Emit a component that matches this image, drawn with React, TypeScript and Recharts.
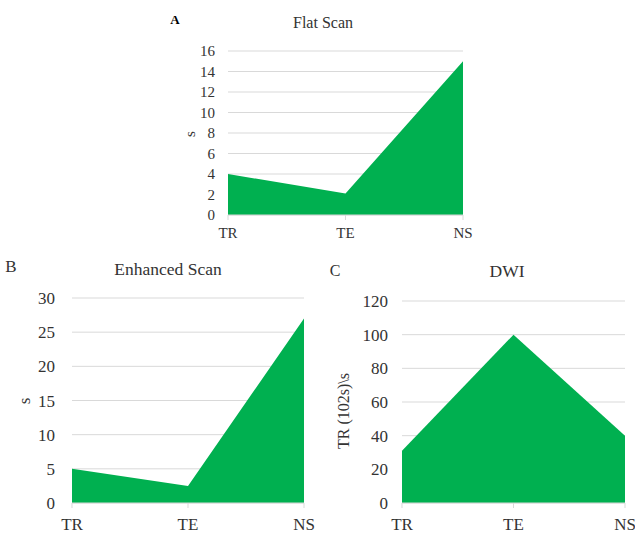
import React from 'react';
import { AreaChart, Area, XAxis, YAxis, CartesianGrid } from 'recharts';

const categories = ['TR', 'TE', 'NS'];
const flatScanValues = [4, 2.1, 15];
const enhancedScanValues = [5, 2.5, 27];
const dwiValues = [31, 100, 40];
const flatTicks = [0, 2, 4, 6, 8, 10, 12, 14, 16];
const enhancedTicks = [0, 5, 10, 15, 20, 25, 30];
const dwiTicks = [0, 20, 40, 60, 80, 100, 120];

const FONT = '"Liberation Serif", "Times New Roman", serif';
const GREEN = '#00b050';
const GRID = '#d9d9d9';
const TEXT = '#333333';

type PanelProps = {
  values: number[];
  ticks: number[];
  left: number;
  top: number;
  width: number;
  height: number;
  margin: { top: number; right: number; bottom: number; left: number };
  yWidth: number;
  yGap: number;
  xGap: number;
  fontSize: number;
};

function Panel(p: PanelProps) {
  const data = categories.map((c, i) => ({ name: c, value: p.values[i] }));
  const max = p.ticks[p.ticks.length - 1];
  return (
    <div style={{ position: 'absolute', left: p.left, top: p.top, width: p.width, height: p.height }}>
      <AreaChart width={p.width} height={p.height} data={data} margin={p.margin}>
        <CartesianGrid vertical={false} stroke={GRID} strokeWidth={1} />
        <XAxis
          dataKey="name"
          height={30}
          axisLine={{ stroke: GRID }}
          tickLine={{ stroke: GRID }}
          tickSize={5}
          tickMargin={p.xGap}
          interval={0}
          tick={{ fill: TEXT, fontSize: p.fontSize, fontFamily: FONT }}
        />
        <YAxis
          width={p.yWidth}
          domain={[0, max]}
          ticks={p.ticks}
          interval={0}
          axisLine={false}
          tickLine={false}
          tickSize={0}
          tickMargin={p.yGap}
          tick={{ fill: TEXT, fontSize: p.fontSize, fontFamily: FONT }}
        />
        <Area
          type="linear"
          dataKey="value"
          stroke="none"
          fill={GREEN}
          fillOpacity={1}
          isAnimationActive={false}
        />
      </AreaChart>
    </div>
  );
}

function Label(props: { x: number; y: number; size: number; text: string; rotate?: boolean; bold?: boolean }) {
  return (
    <div
      style={{
        position: 'absolute',
        left: props.x,
        top: props.y,
        transform: `translate(-50%, -50%)${props.rotate ? ' rotate(-90deg)' : ''}`,
        fontFamily: FONT,
        fontSize: props.size,
        fontWeight: props.bold ? 'bold' : 'normal',
        color: props.bold ? '#000000' : TEXT,
        whiteSpace: 'pre',
        lineHeight: 1,
      }}
    >
      {props.text}
    </div>
  );
}

export default function App() {
  return (
    <div
      style={{
        position: 'fixed',
        left: 0,
        top: 0,
        width: 635,
        height: 536,
        overflow: 'hidden',
        background: '#ffffff',
      }}
    >
      <Panel
        values={flatScanValues}
        ticks={flatTicks}
        left={150}
        top={0}
        width={330}
        height={250}
        margin={{ top: 51, right: 17, bottom: 5, left: 38 }}
        yWidth={40}
        yGap={13}
        xGap={7}
        fontSize={15}
      />
      <Panel
        values={enhancedScanValues}
        ticks={enhancedTicks}
        left={0}
        top={255}
        width={320}
        height={281}
        margin={{ top: 43, right: 16, bottom: 3, left: 22 }}
        yWidth={50}
        yGap={17}
        xGap={10}
        fontSize={17}
      />
      <Panel
        values={dwiValues}
        ticks={dwiTicks}
        left={320}
        top={255}
        width={315}
        height={281}
        margin={{ top: 46, right: 10, bottom: 3, left: 32 }}
        yWidth={50}
        yGap={14}
        xGap={10}
        fontSize={17}
      />
      <Label x={175} y={19} size={13} text="A" bold />
      <Label x={323} y={23} size={16} text="Flat Scan" />
      <Label x={189.5} y={133.5} size={15} text="s" rotate />
      <Label x={11} y={266} size={17} text="B" />
      <Label x={168} y={270} size={17.5} text="Enhanced Scan" />
      <Label x={24} y={401} size={17} text="s" rotate />
      <Label x={335} y={271} size={16} text="C" />
      <Label x={507} y={272} size={17.5} text="DWI" />
      <Label x={343.5} y={410.5} size={16} text="TR (102s)\s" rotate />
    </div>
  );
}
